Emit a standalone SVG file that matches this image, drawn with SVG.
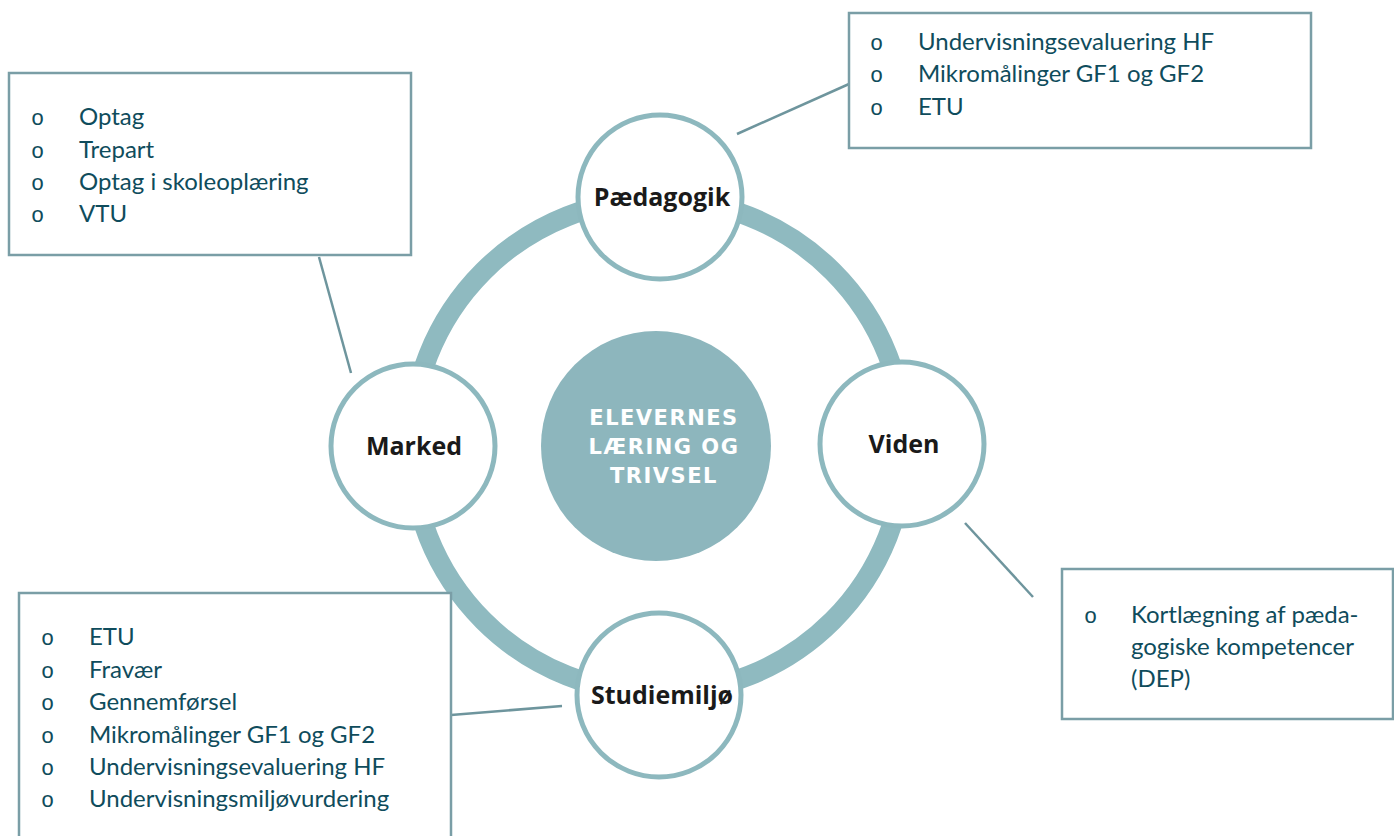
<svg xmlns="http://www.w3.org/2000/svg" width="1394" height="836" viewBox="0 0 1394 836">
  <style>
    .box { fill: #ffffff; stroke: #7A9EA6; stroke-width: 2.5; }
    .item { font-family: Lato, "Open Sans", sans-serif; font-size: 24px; fill: #0F4C5C; }
    .bul { font-family: "Liberation Mono", monospace; font-size: 22px; fill: #0F4C5C; }
    .node { fill: #ffffff; stroke: #8DB8BE; stroke-width: 5; }
    .lbl { font-family: "Open Sans", "Liberation Sans", sans-serif; font-weight: 700; font-size: 25px; fill: #1a1a1a; text-anchor: middle; }
    .ctr { font-family: "DejaVu Sans", "Open Sans", sans-serif; font-weight: 700; font-size: 21px; fill: #ffffff; text-anchor: middle; letter-spacing: 1.5px; }
    .conn { stroke: #6E959D; stroke-width: 2.5; fill: none; }
  </style>
  <rect width="1394" height="836" fill="#ffffff"/>

  <g id="ring">
    <circle cx="658" cy="446" r="247" fill="none" stroke="#8FBAC0" stroke-width="20"/>
  </g>

  <g id="center">
    <circle cx="656" cy="446" r="115" fill="#8DB6BD"/>
    <text class="ctr" x="664" y="425">ELEVERNES</text>
    <text class="ctr" x="664" y="454">LÆRING OG</text>
    <text class="ctr" x="664" y="483">TRIVSEL</text>
  </g>

  <g id="connectors">
    <line class="conn" x1="737" y1="134" x2="849" y2="84"/>
    <line class="conn" x1="319" y1="257" x2="351" y2="373"/>
    <line class="conn" x1="965" y1="523" x2="1033" y2="597"/>
    <line class="conn" x1="451" y1="715" x2="562" y2="706"/>
  </g>

  <g id="node-paedagogik">
    <circle class="node" cx="660" cy="197" r="82"/>
    <text class="lbl" x="662" y="206">Pædagogik</text>
  </g>
  <g id="node-marked">
    <circle class="node" cx="413" cy="446" r="82"/>
    <text class="lbl" x="414" y="455">Marked</text>
  </g>
  <g id="node-viden">
    <circle class="node" cx="902" cy="444" r="82"/>
    <text class="lbl" x="904" y="453">Viden</text>
  </g>
  <g id="node-studiemiljo">
    <circle class="node" cx="659" cy="695" r="82"/>
    <text class="lbl" x="662" y="704">Studiemiljø</text>
  </g>

  <g id="box-top-right">
    <rect class="box" x="849" y="13" width="462" height="135"/>
    <text class="bul" x="870" y="50">o</text>
    <text class="item" x="918" y="50">Undervisningsevaluering HF</text>
    <text class="bul" x="870" y="82">o</text>
    <text class="item" x="918" y="82">Mikromålinger GF1 og GF2</text>
    <text class="bul" x="870" y="115">o</text>
    <text class="item" x="918" y="115">ETU</text>
  </g>

  <g id="box-left">
    <rect class="box" x="9" y="73" width="402" height="182"/>
    <text class="bul" x="31" y="125">o</text>
    <text class="item" x="79" y="125">Optag</text>
    <text class="bul" x="31" y="158">o</text>
    <text class="item" x="79" y="158">Trepart</text>
    <text class="bul" x="31" y="190">o</text>
    <text class="item" x="79" y="190">Optag i skoleoplæring</text>
    <text class="bul" x="31" y="222">o</text>
    <text class="item" x="79" y="222">VTU</text>
  </g>

  <g id="box-bottom-left">
    <rect class="box" x="19" y="593" width="432" height="260"/>
    <text class="bul" x="41" y="645">o</text>
    <text class="item" x="89" y="645">ETU</text>
    <text class="bul" x="41" y="678">o</text>
    <text class="item" x="89" y="678">Fravær</text>
    <text class="bul" x="41" y="710">o</text>
    <text class="item" x="89" y="710">Gennemførsel</text>
    <text class="bul" x="41" y="743">o</text>
    <text class="item" x="89" y="743">Mikromålinger GF1 og GF2</text>
    <text class="bul" x="41" y="775">o</text>
    <text class="item" x="89" y="775">Undervisningsevaluering HF</text>
    <text class="bul" x="41" y="807">o</text>
    <text class="item" x="89" y="807">Undervisningsmiljøvurdering</text>
  </g>

  <g id="box-bottom-right">
    <rect class="box" x="1062" y="569" width="331" height="150"/>
    <text class="bul" x="1084" y="623">o</text>
    <text class="item" x="1131" y="623">Kortlægning af pæda-</text>
    <text class="item" x="1131" y="655">gogiske kompetencer</text>
    <text class="item" x="1131" y="687">(DEP)</text>
  </g>
</svg>
